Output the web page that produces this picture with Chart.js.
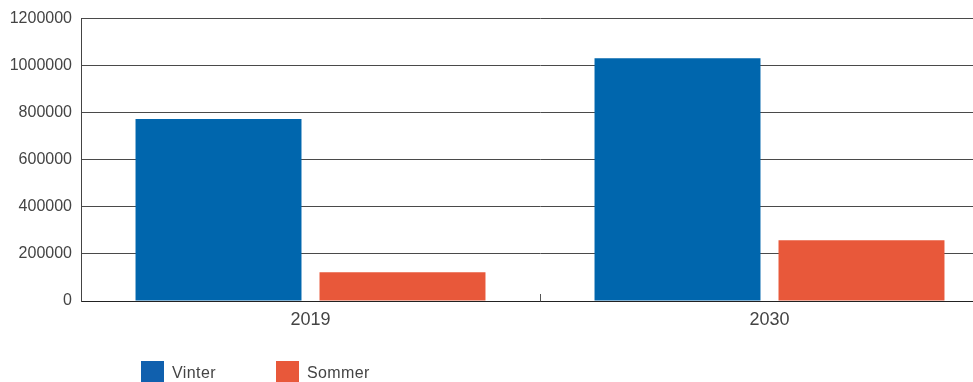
<!DOCTYPE html>
<html>
<head>
<meta charset="utf-8">
<script src="https://cdn.jsdelivr.net/npm/chart.js@4"></script>
<style>
  html, body { margin: 0; padding: 0; background: #fff; overflow: hidden; }
  #wrap { position: relative; width: 973px; height: 382px; overflow: hidden; }
  #c { position: absolute; left: 0; top: 0; }
  #legend { position: absolute; left: 141px; top: 361px; font: 16px "Liberation Sans", Arial, sans-serif; color: #444; }
  #legend span.item { position: absolute; white-space: nowrap; }
  #legend i { position: absolute; top: 0; width: 23px; height: 22px; }
  #legend b { position: absolute; left: 31px; top: 3px; font-weight: normal; letter-spacing: 0.4px; }
</style>
</head>
<body>
<div id="wrap">
  <canvas id="c" width="999" height="382"></canvas>
  <div id="legend"></div>
</div>
<script>
// data
const years = ["2019", "2030"];
const vinter = [773000, 1031000];
const sommer = [122000, 258000];
const yTicks = [0, 200000, 400000, 600000, 800000, 1000000, 1200000];

const blue = "#0066ad";
const orange = "#e8583a";

/* ======================
   small inner tick between the groups
====================== */
const midTick = {
  id: "midTick",
  afterDraw(chart) {
    const x = chart.scales.x;
    const ctx = chart.ctx;
    const bottom = chart.chartArea.bottom;
    for (let i = 0; i < years.length - 1; i++) {
      const px = Math.round((x.getPixelForValue(i) + x.getPixelForValue(i + 1)) / 2) + 0.5;
      ctx.save();
      ctx.strokeStyle = "#555";
      ctx.lineWidth = 1;
      ctx.beginPath();
      ctx.moveTo(px, bottom - 7);
      ctx.lineTo(px, bottom);
      ctx.stroke();
      ctx.restore();
    }
  },
};

const chart = new Chart(document.getElementById("c"), {
  type: "bar",
  data: {
    labels: years,
    datasets: [
      { label: "Vinter", data: vinter, backgroundColor: blue, legendColor: "#1060ae" },
      { label: "Sommer", data: sommer, backgroundColor: orange, legendColor: orange },
    ],
  },
  options: {
    responsive: false,
    animation: false,
    layout: { padding: { top: 15, left: 0, right: 0, bottom: 0 } },
    datasets: {
      bar: { categoryPercentage: 0.8017, barPercentage: 0.902, inflateAmount: 0 },
    },
    plugins: {
      legend: { display: false },
      tooltip: { enabled: false },
    },
    scales: {
      x: {
        grid: { display: false, drawTicks: false },
        border: { display: true, color: "#222", width: 1 },
        ticks: {
          padding: 8,
          color: "#444",
          font: { family: "'Liberation Sans', Arial, sans-serif", size: 18 },
        },
        afterFit(scale) { scale.height = 81; },
      },
      y: {
        min: 0,
        max: 1200000,
        afterBuildTicks(scale) { scale.ticks = yTicks.map((v) => ({ value: v })); },
        grid: { color: "#4a4a4a", lineWidth: 1, drawTicks: false },
        border: { display: true, color: "#444", width: 1 },
        ticks: {
          padding: 9,
          color: "#444",
          font: { family: "'Liberation Sans', Arial, sans-serif", size: 16 },
          callback: (v) => String(v),
        },
        afterFit(scale) { scale.width = 81; },
      },
    },
  },
  plugins: [midTick],
});

// legend from datasets
const legend = document.getElementById("legend");
const offsets = [0, 135];
chart.data.datasets.forEach((ds, i) => {
  const item = document.createElement("span");
  item.className = "item";
  item.style.left = offsets[i] + "px";
  item.innerHTML = `<i style="background:${ds.legendColor}"></i><b>${ds.label}</b>`;
  legend.appendChild(item);
});
</script>
</body>
</html>
